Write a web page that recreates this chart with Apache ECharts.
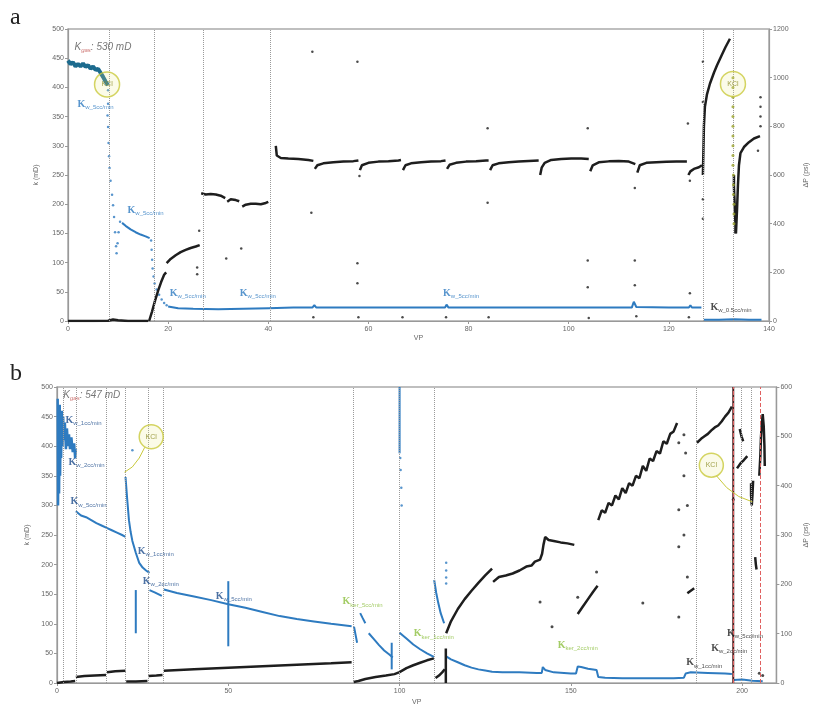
<!DOCTYPE html>
<html><head><meta charset="utf-8">
<script src="https://cdn.jsdelivr.net/npm/echarts@6/dist/echarts.min.js"></script>
<style>html,body{margin:0;padding:0;background:#fff}#c{width:818px;height:707px}</style>
</head><body><div id="c"></div>
<script>
// ================= PANEL a data (x = VP, k in mD on left, dP in psi on right) =================
const aKBand = [[0,446],[0.5,440],[1,443],[1.5,436],[2,440],[2.5,436],[3,441],[3.5,435],[4,438],[4.5,432],[5,436],[5.5,430],[6,432],[6.5,425],[7,418],[7.5,410],[8,404]];
const aKDrop1 = [[8,395],[8,372],[7.9,352],[8,332],[8.1,305],[8.2,282],[8.3,262],[8.5,240],[8.8,216],[9,198],[9.2,178],[9.4,152],[9.6,128],[9.7,116],[9.9,133],[10.1,152],[10.4,170]];
const aK2 = [[10.8,168],[11.5,163],[12.5,157],[13.5,152],[14.5,148],[15.5,145],[16.3,142]];
const aKDrop2 = [[16.6,138],[16.7,122],[16.8,105],[16.9,90],[17.1,76],[17.3,64],[17.7,54],[18.2,45],[18.7,37],[19.2,31],[19.7,27]];
const aK3 = [[20,25],[22,22],[25,21],[30,20],[35,21],[40,22],[45,23],[48.8,23],[49.2,27],[49.6,23],[58,23],[66.5,23],[75.3,23],[75.6,28],[76,23],[84,23],[94,23],[104,23],[112.6,23],[113,33],[113.5,24],[120,23],[124,23],[124.3,27],[124.6,23],[126.5,23]];
const aK4 = [[127,2],[130,2],[133,3],[136,2],[138.5,2]];

const aDP = [
  [[0,0],[5,0],[8,1],[9,6],[10,3],[12,0],[16,0]],
  [[16.2,0],[16.8,40],[17.4,85],[18,125],[18.6,160],[19.2,190],[19.6,200]],
  [[19.7,238],[20.5,255],[21.5,270],[22.5,283],[23.5,292],[24.5,300],[25.5,306],[26.3,312]],
  [[26.6,525],[27.5,520],[28.5,522],[29.5,520],[30.5,515],[31.4,505]],
  [[31.8,490],[32.5,500],[33.5,497],[34.2,492]],
  [[34.8,470],[35.5,478],[36.5,482],[37.5,482],[38.5,480],[39.5,485],[40,490]],
  [[41.5,720],[41.7,680],[42.5,670],[44,668],[46,666],[48,662],[49,658]],
  [[49.3,625],[49.8,640],[51,648],[53,652],[55,655],[57,657],[58,660]],
  [[58.3,620],[58.7,640],[60,650],[62,655],[64,657],[66,660],[66.5,662]],
  [[66.9,620],[67.4,640],[68.5,648],[70.5,652],[72.5,655],[74.5,657],[75.4,660]],
  [[75.7,625],[76.2,642],[77.5,650],[79.5,655],[81.5,657],[83.5,660],[84,660]],
  [[84.3,620],[84.8,640],[86,648],[88,652],[90,655],[92,658],[94,660]],
  [[94.3,600],[94.6,630],[95.2,650],[96.5,662],[98.5,666],[100.5,668],[102.5,668],[104,666]],
  [[104.3,615],[104.8,640],[106,652],[108,656],[110,658],[112,655],[113.3,645]],
  [[113.7,610],[114.2,640],[115.5,650],[117.5,652],[119.5,654],[121.5,655],[123.6,655]],
  [[123.9,600],[124.3,615],[125,625],[126,632],[126.6,640]],
  [[126.8,600],[126.9,700],[127,800],[127.2,880],[127.6,930],[128.2,975],[129,1020],[129.6,1050],[130.5,1090],[131.3,1125],[132.2,1160]],
  [[133,600],[133,550],[133.1,500],[133.2,450],[133.3,400],[133.3,360]],
  [[133.4,360],[133.6,450],[133.8,560],[134,640],[134.3,690],[135,715],[136,735],[137,750],[138.2,760]]
];
const aDPDots = [[48.8,1106],[57.8,1065],[48.6,445],[58.2,596],[57.8,237],[57.8,155],[26.2,371],[31.6,257],[34.6,298],[25.8,220],[25.8,192],[83.8,792],[83.8,486],[103.8,792],[103.8,249],[103.8,139],[113.2,547],[113.2,249],[113.2,147],[124.2,114],[124.2,576],[123.8,812],[126.8,1065],[126.8,900],[126.8,500],[126.8,420],[138.3,800],[138.3,840],[138.3,880],[138.3,920],[137.8,700],
  [49,15],[58,15],[66.8,15],[75.5,15],[84,15],[104,12],[113.5,20],[124,15]];
const aKClDots = [[132.8,1000],[132.8,960],[132.8,920],[132.8,880],[132.8,840],[132.8,800],[132.8,760],[132.8,720],[132.8,680],[132.8,640],[132.9,600],[132.9,560],[132.9,520],[133,480],[133,440],[133,400]];
const aVLines = [8.2,17.2,27,40.3,126.8,132.8];
const aKCl = [[7.8,405],[132.8,406]];
const aLabels = [[1.8,371,'w_5cc/min','#2e7bc0'],[11.8,189,'w_5cc/min','#2e7bc0'],[20.2,48,'w_5cc/min','#2e7bc0'],[34.2,48,'w_5cc/min','#2e7bc0'],[74.8,48,'w_5cc/min','#2e7bc0'],[128.2,24,'w_0.5cc/min','#222']];
const aTotal = [1.2,469,'gas',': 530 mD'];

// ================= PANEL b data =================
const bKNoise = [[0.2,480],[0.3,300],[0.5,460],[0.6,320],[0.8,470],[0.9,350],[1.1,455],[1.2,380],[1.4,460],[1.6,400],[1.8,450],[2,410],[2.3,440],[2.6,395],[2.9,430],[3.2,400],[3.5,420],[3.8,395],[4.2,415],[4.6,390],[5,405],[5.3,380],[5.5,395]];
const bK = [
  [[5.5,290],[7,283],[8.5,280],[10,275],[11.5,270],[13,266],[14.5,262],[16,258],[17.5,254],[19,250],[20,247]],
  [[20,348],[20.5,310],[21,275],[21.5,255],[22,240],[23,220],[24,203],[25,195],[26,190],[27,186]],
  [[27,157],[28.5,153],[30.6,147]],
  [[31.2,158],[35,152],[40,146],[45,140],[50,133],[55,127],[60,120],[65,113],[70,108],[75,104],[80,100],[86,96]],
  [[86.7,95],[87.2,80],[87.6,68]],
  [[88.5,118],[89.2,110],[90,101]],
  [[91,84],[92.5,74],[94,64],[95.5,55],[97,48],[98,43]],
  [[100,85],[102,75],[104,65],[106,57],[108,50],[110,44]],
  [[110.1,174],[110.7,152],[111.3,135],[112,118],[113,101]],
  [[113.6,45],[115,40],[117,35],[119,30],[121,26],[123,23],[125,21],[127,19],[130,18],[135,18],[140,17],[141.5,17],[141.8,27],[142.5,22],[145,18],[150,16],[151.5,16],[152,28],[153,27],[155,24],[157.5,22],[158,10],[160,9],[165,8],[170,8],[175,8],[180,8],[183,9],[183.5,16],[185,18],[190,17],[195,16],[197,15]],
  [[197.5,5],[200,6],[203,4],[206,3]],
  [[23,157],[23,84]],[[50,172],[50,62]],[[97.7,68],[97.7,23]],[[100,500],[100,388]]
];
const bKDots = [[22,393],[113.6,203],[113.6,190],[113.6,178],[113.6,168],[100.2,380],[100.3,360],[100.5,330],[100.6,300]];
const bDP = [
  [[0,0],[2,2],[4,3],[5.3,4]],
  [[5.5,12],[8,14],[11,15],[14.3,16]],
  [[14.6,22],[17,24],[20,25]],
  [[20.2,3],[23,3],[26.4,4]],
  [[26.7,14],[29,15],[30.8,16]],
  [[31.2,25],[40,28],[50,31],[60,34],[70,37],[80,40],[86,42]],
  [[86.6,2],[88,4],[90,8],[93,12],[96,15],[98.5,18],[100,22],[102,30],[104,36],[106,41],[108,46],[110,50]],
  [[110.5,10],[111.5,15],[112.5,22],[113.2,28]],
  [[113.5,0],[113.5,70]],
  [[113.6,101],[115,125],[117,150],[119,170],[121,187],[123,203],[125,218],[127,232]],
  [[127.3,205],[129,215],[131,218],[133,222],[135,228],[137,236],[138.5,238],[139.5,246],[141,250],[141.6,262],[142,280],[142.5,296],[143.5,290],[145,288],[147,285],[149,283],[151,280]],
  [[152,140],[153.5,155],[155,170],[156.5,185],[157.8,197]],
  [[158,330],[159,350],[160,345],[161,365],[162,360],[163,380],[164,372],[165,395],[166,385],[167,405],[168,400],[169,420],[170,415],[171,440],[172,430],[173,455],[174,450],[175,470],[176,465],[177,490],[178,485],[179,505],[180,510],[181,527]],
  [[184,182],[185,187],[186,192]],
  [[186.8,487],[188,495],[189,500],[190,505],[191,512],[192,518],[193,522],[194,530],[195,540],[196,548],[197,560]],
  [[198.5,435],[199.5,445],[200.5,452],[201.5,460]],
  [[199.3,515],[199.8,500],[200.3,490]],
  [[202.6,405],[202.6,380],[202.8,360],[203,380],[203.2,410]],
  [[203.8,255],[204,240],[204.2,230]],
  [[205,420],[205.3,460],[205.5,500],[205.8,530],[206,545],[206.3,520],[206.5,480],[206.6,440]]
];
const bDPVertical = [[197.4,600],[197.4,0]];
const bDPDots = [[141,164],[144.5,114],[152,174],[157.5,225],[171,162],[181.5,487],[181.5,351],[181.5,276],[181.5,134],[184,215],[183,503],[183.5,466],[183,420],[184,360],[183,300],[197.4,372],[205,20],[206,15]];
const bVLines = [1.8,5.5,14.5,20,26.6,31,86.4,100,110,186.7,199.7,202.6];
const bRedLines = [197.4,205.2];
const bKCl = [[27.5,416],[191,368]];
const bLeader1 = [[25.6,398],[24,380],[22,365],[19.7,356]];
const bLeader2 = [[192.5,350],[195.5,330],[199,315],[203,306]];
const bLabels = [[2.3,444,'w_1cc/min','#1f4e8c'],[3.2,372,'w_2cc/min','#1f4e8c'],[3.8,306,'w_5cc/min','#1f4e8c'],[23.4,223,'w_1cc/min','#1f4e8c'],[24.9,172,'w_2cc/min','#1f4e8c'],[46.2,147,'w_5cc/min','#1f4e8c'],
  [83.2,137,'ker_5cc/min','#8cbf3f'],[104,83,'ker_1cc/min','#8cbf3f'],[146,64,'ker_2cc/min','#8cbf3f'],
  [183.5,34,'w_1cc/min','#222'],[190.8,59,'w_2cc/min','#222'],[195.4,84,'w_5cc/min','#222']];
const bTotal = [1.7,486,'gas',': 547 mD'];

// ================= chart build =================
const BLUE = '#2e7bc0', TEAL = '#1c6b8e', BLACK = '#1e1e1e', KCLC = '#c9c93c';
const series = [];
function addLine(data, xi, yi, color, width, z) {
  series.push({type:'line', xAxisIndex:xi, yAxisIndex:yi, data:data, symbol:'none', silent:true,
    lineStyle:{color:color, width:width}, z:z||3});
}
function addDots(data, xi, yi, color, size, z) {
  series.push({type:'scatter', xAxisIndex:xi, yAxisIndex:yi, data:data, symbolSize:size, silent:true,
    itemStyle:{color:color}, z:z||3});
}
function addVLines(xs, xi, yi, color, type) {
  series.push({type:'line', xAxisIndex:xi, yAxisIndex:yi, data:[], silent:true,
    markLine:{symbol:'none', silent:true, label:{show:false},
      lineStyle:{color:color, type:type, width:1},
      data: xs.map(v => ({xAxis:v}))}, z:1});
}
function addKCl(pts, xi, yi, size) {
  series.push({type:'scatter', xAxisIndex:xi, yAxisIndex:yi, data:pts, symbol:'circle', symbolSize:size, silent:true,
    itemStyle:{color:'rgba(235,235,140,0.25)', borderColor:KCLC, borderWidth:1.5},
    label:{show:true, position:'inside', formatter:'KCl', fontSize:7, color:'#8a8a20', fontFamily:'Liberation Sans'}, z:6});
}
function addLabels(items, xi, yi) {
  series.push({type:'scatter', xAxisIndex:xi, yAxisIndex:yi, symbolSize:1, silent:true, z:8,
    itemStyle:{color:'rgba(0,0,0,0)'},
    data: items.map(it => ({value:[it[0], it[1]], label:{show:true, position:'right', distance:0,
      formatter:'{k|K}{s|' + it[2] + '}',
      rich:{k:{fontSize:10, fontWeight:'bold', color:it[3], fontFamily:'Liberation Serif'},
            s:{fontSize:6, color:it[3], padding:[6,0,0,0], fontFamily:'Liberation Sans'}}}}))});
}
function addTotal(t, xi, yi) {
  series.push({type:'scatter', xAxisIndex:xi, yAxisIndex:yi, symbolSize:1, silent:true, z:8,
    itemStyle:{color:'rgba(0,0,0,0)'},
    data:[{value:[t[0], t[1]], label:{show:true, position:'right', distance:0,
      formatter:'{a|K}{b|' + t[2] + '}{a|' + t[3] + '}',
      rich:{a:{fontSize:10, fontStyle:'italic', color:'#555', fontFamily:'Liberation Sans'},
            b:{fontSize:6, fontStyle:'italic', color:'#c0504d', padding:[6,0,0,0]}}}}]});
}

// panel a
addVLines(aVLines, 0, 0, '#9a9a9a', 'dotted');
addLine(aKBand, 0, 0, TEAL, 4);
addDots(aKDrop1, 0, 0, BLUE, 2.5);
addLine(aK2, 0, 0, BLUE, 2);
addDots(aKDrop2, 0, 0, BLUE, 2.5);
addLine(aK3, 0, 0, BLUE, 2);
addLine(aK4, 0, 0, BLUE, 2);
aDP.forEach(s => addLine(s, 0, 1, BLACK, 2.5, 4));
addDots(aDPDots, 0, 1, BLACK, 2.5);
addDots(aKClDots, 0, 1, '#9aa32c', 3, 5);
addKCl(aKCl, 0, 0, 25);
addLabels(aLabels, 0, 0);
addTotal(aTotal, 0, 0);

// panel b
addVLines(bVLines, 1, 2, '#9a9a9a', 'dotted');
addVLines(bRedLines, 1, 2, '#e06060', 'dashed');
addLine(bKNoise, 1, 2, BLUE, 2.5);
bK.forEach(s => addLine(s, 1, 2, BLUE, 2));
addDots(bKDots, 1, 2, BLUE, 2.5);
bDP.forEach(s => addLine(s, 1, 3, BLACK, 2.5, 4));
addLine(bDPVertical, 1, 3, '#4a2222', 2, 4);
addDots(bDPDots, 1, 3, BLACK, 3);
addLine(bLeader1, 1, 2, KCLC, 1, 5);
addLine(bLeader2, 1, 2, KCLC, 1, 5);
addKCl(bKCl, 1, 2, 24);
addLabels(bLabels, 1, 2);
addTotal(bTotal, 1, 2);

const lab = {fontSize:7, color:'#666', fontFamily:'Liberation Sans', formatter: v => String(v)};
const axLine = {show:true, lineStyle:{color:'#999', width:1.2}};
const tick = {show:true, inside:false, length:3, lineStyle:{color:'#999'}};
function xAx(gi, max, interval, gap, showMax) {
  return {type:'value', gridIndex:gi, min:0, max:max, interval:interval, name:'VP', nameLocation:'middle', nameGap:gap,
    nameTextStyle:{fontSize:7, color:'#666'}, axisLine:axLine, axisTick:tick,
    axisLabel:Object.assign({margin:5, showMaxLabel:showMax}, lab), splitLine:{show:false}};
}
function yAx(gi, pos, max, interval, name, gap) {
  return {type:'value', gridIndex:gi, position:pos, min:0, max:max, interval:interval, name:name,
    nameLocation:'middle', nameGap:gap, nameRotate:90, nameTextStyle:{fontSize:7, color:'#666'},
    axisLine:axLine, axisTick:tick, axisLabel:Object.assign({margin:4}, lab), splitLine:{show:false}};
}

const chart = echarts.init(document.getElementById('c'), null, {renderer:'canvas'});
chart.setOption({
  animation:false,
  backgroundColor:'#fff',
  graphic:[
    {type:'text', left:10, top:6, style:{text:'a', fontSize:24, fontFamily:'Liberation Serif', fill:'#222'}},
    {type:'text', left:10, top:362, style:{text:'b', fontSize:24, fontFamily:'Liberation Serif', fill:'#222'}}
  ],
  grid:[
    {left:68, top:29, width:702, height:292, show:true, borderColor:'#aaa', borderWidth:1.5, backgroundColor:'#fff'},
    {left:57, top:387, width:726, height:296, show:true, borderColor:'#aaa', borderWidth:1.5, backgroundColor:'#fff'}
  ],
  xAxis:[ xAx(0, 140, 20, 14, true), xAx(1, 210, 50, 16, false) ],
  yAxis:[
    yAx(0, 'left', 500, 50, 'k (mD)', 28),
    yAx(0, 'right', 1200, 200, 'ΔP (psi)', 34),
    yAx(1, 'left', 500, 50, 'k (mD)', 25),
    yAx(1, 'right', 600, 100, 'ΔP (psi)', 24)
  ],
  series:series
});
</script>
</body></html>
